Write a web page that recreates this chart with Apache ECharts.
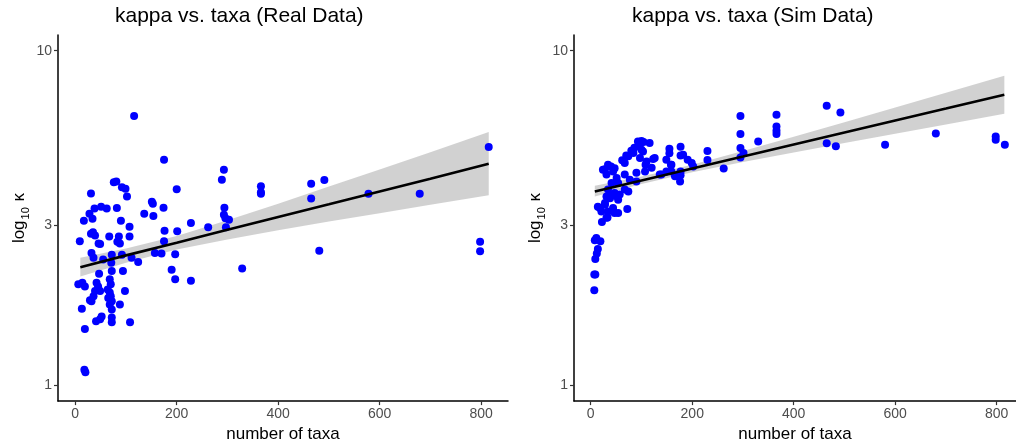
<!DOCTYPE html>
<html><head><meta charset="utf-8">
<script src="https://cdn.jsdelivr.net/npm/echarts@6/dist/echarts.min.js"></script>
<style>html,body{margin:0;padding:0;background:#fff}#c{width:1016px;height:448px}</style>
</head><body><div id="c"></div><script>
// ---- Real data (number of taxa, kappa) ----
const realTaxa = [116,175,293,289,76,81,92,99,102,200,31,151,153,174,294,38,51,62,82,28,34,17,90,136,154,293,296,303,107,176,201,228,262,297,35,39,31,9,46,49,67,86,83,88,107,175,197,157,170,32,36,55,72,92,111,124,71,47,72,94,190,197,228,329,6,14,19,42,45,49,68,70,68,65,72,36,32,39,98,88,68,13,72,49,41,52,72,72,108,19,18,20,815,465,491,465,366,366,366,578,679,798,798,481,29,64,70];
const realKappa = [6.38,4.72,4.40,4.11,4.04,4.06,3.90,3.86,3.66,3.85,3.74,3.53,3.48,3.39,3.39,3.37,3.41,3.37,3.38,3.25,3.14,3.10,3.10,3.25,3.20,3.23,3.15,3.12,2.97,2.89,2.88,3.05,2.96,2.96,2.86,2.80,2.83,2.69,2.65,2.64,2.78,2.78,2.68,2.65,2.78,2.69,2.46,2.48,2.47,2.48,2.40,2.37,2.45,2.45,2.40,2.33,2.32,2.15,2.19,2.19,2.21,2.07,2.05,2.23,2.00,2.02,1.97,2.02,1.97,1.91,2.07,2.00,1.89,1.82,1.78,1.84,1.78,1.91,1.91,1.74,1.74,1.69,1.68,1.57,1.55,1.60,1.59,1.54,1.54,1.47,1.11,1.09,5.15,4.00,4.10,3.61,3.93,3.77,3.73,3.73,3.73,2.68,2.51,2.52,1.79,1.93,1.84];
// fitted line and 95% band (kappa) read at these taxa values
const realFitTaxa = [10,100,200,300,400,500,600,700,815];
const realFit   = [2.25,2.44,2.66,2.91,3.18,3.47,3.79,4.14,4.59];
const realLower = [2.11,2.32,2.54,2.72,2.90,3.08,3.26,3.46,3.69];
const realUpper = [2.40,2.56,2.79,3.11,3.48,3.92,4.41,4.97,5.71];

// ---- Sim data ----
const simTaxa = [465,492,295,366,366,366,366,295,330,680,798,798,816,580,465,483,295,295,301,230,230,262,177,177,155,155,158,191,199,202,177,177,149,139,
7,7,9,9,12,14,8,19,22,33,14,21,28,38,44,54,72,51,57,
93,100,116,100,110,126,136,
24,34,44,31,67,74,84,97,103,120,107,90,67,77,90,51,54,41,67,74,34,31,41,47,54,28,18,34,47,31,11,149,159,182,159,166,176,
123,108,28,40,47,62,70,80,86,96,104];
const simKappa = [6.84,6.53,6.37,6.43,5.93,5.76,5.63,5.63,5.35,5.65,5.54,5.41,5.23,5.23,5.28,5.18,5.11,4.79,4.94,5.01,4.71,4.44,5.16,4.86,5.09,4.93,4.56,4.72,4.61,4.50,4.35,4.24,4.35,4.26,
1.92,2.14,2.14,2.38,2.47,2.55,2.71,2.69,3.07,3.17,3.41,3.30,3.46,3.62,3.38,3.27,3.36,3.67,3.71,
5.35,5.37,5.29,5.05,4.66,4.77,4.26,
4.40,4.56,4.35,4.26,4.61,4.83,4.94,4.77,4.99,4.46,4.35,4.31,4.26,4.11,4.06,4.16,4.02,4.02,3.84,3.79,3.84,3.66,3.71,3.75,3.58,3.50,3.38,3.30,3.27,3.16,2.75,4.72,4.56,4.88,4.35,4.21,4.06,
4.74,4.56,4.42,4.50,4.45,4.70,4.86,5.02,5.12,5.20,5.33];
const simFitTaxa = [8,100,200,300,400,500,600,700,815];
const simFit   = [3.79,4.09,4.44,4.82,5.24,5.69,6.18,6.71,7.38];
const simLower = [3.66,3.99,4.33,4.64,4.96,5.29,5.64,6.01,6.47];
const simUpper = [3.94,4.20,4.56,5.01,5.53,6.11,6.76,7.48,8.41];

const titles = ['kappa vs. taxa (Real Data)', 'kappa vs. taxa (Sim Data)'];
const xTicks = [0,200,400,600,800];
const yTickKappa = [1,3,10];

const L = Math.log10;
const yTicks = yTickKappa.map(L);

function bandSeries(idx, xs, lo, hi) {
  return {
    type: 'custom', xAxisIndex: idx, yAxisIndex: idx, silent: true,
    data: xs.map((x, i) => [x, L(lo[i]), L(hi[i])]),
    renderItem: function (params, api) {
      if (params.dataIndex !== 0) return null;
      const pts = [];
      for (let i = 0; i < xs.length; i++) pts.push(api.coord([xs[i], L(hi[i])]));
      for (let i = xs.length - 1; i >= 0; i--) pts.push(api.coord([xs[i], L(lo[i])]));
      return { type: 'polygon', shape: { points: pts }, style: { fill: 'rgba(153,153,153,0.45)' } };
    }
  };
}
function xAxisCfg(idx, min, max) {
  return {
    type: 'value', gridIndex: idx, min: min, max: max,
    name: 'number of taxa', nameLocation: 'middle', nameGap: 24,
    nameTextStyle: { fontSize: 17, color: '#000', fontFamily: 'Liberation Sans' },
    axisLine: { show: true, onZero: false, lineStyle: { color: '#000', width: 1.5 } },
    axisTick: { show: true, length: 4, customValues: xTicks, lineStyle: { color: '#333', width: 1.2 } },
    axisLabel: { customValues: xTicks, fontSize: 14, color: '#4d4d4d', margin: 6, fontFamily: 'Liberation Sans' },
    splitLine: { show: false }
  };
}
function yAxisCfg(idx) {
  return {
    type: 'value', gridIndex: idx, min: -0.0487, max: 1.0469,
    name: '{a|log}{s|10}{a| κ}', nameLocation: 'middle', nameGap: 30, nameRotate: 90,
    nameTextStyle: { rich: {
      a: { fontSize: 17, color: '#000', fontFamily: 'Liberation Sans', lineHeight: 20, verticalAlign: 'bottom' },
      s: { fontSize: 11, color: '#000', fontFamily: 'Liberation Sans', lineHeight: 20, verticalAlign: 'bottom', padding: [0, 1, -3, 1] }
    } },
    axisLine: { show: true, onZero: false, lineStyle: { color: '#000', width: 1.5 } },
    axisTick: { show: true, length: 4, customValues: yTicks, lineStyle: { color: '#333', width: 1.2 } },
    axisLabel: { customValues: yTicks, fontSize: 14, color: '#4d4d4d', margin: 6, fontFamily: 'Liberation Sans',
      formatter: v => String(Math.round(Math.pow(10, v))) },
    splitLine: { show: false }
  };
}
function pointSeries(idx, xs, ks) {
  return { type: 'scatter', xAxisIndex: idx, yAxisIndex: idx, symbolSize: 8,
    itemStyle: { color: '#0000FF', opacity: 1 }, data: xs.map((x, i) => [x, L(ks[i])]) };
}
function fitSeries(idx, xs, ks) {
  return { type: 'line', xAxisIndex: idx, yAxisIndex: idx, symbol: 'none', silent: true,
    lineStyle: { color: '#000', width: 2.6 }, data: xs.map((x, i) => [x, L(ks[i])]) };
}

const chart = echarts.init(document.getElementById('c'), null, { renderer: 'canvas' });
chart.setOption({
  animation: false,
  backgroundColor: '#fff',
  title: [
    { text: titles[0], left: 110, top: 1, textStyle: { fontSize: 21, fontWeight: 'normal', color: '#000', fontFamily: 'Liberation Sans' } },
    { text: titles[1], left: 627, top: 1, textStyle: { fontSize: 21, fontWeight: 'normal', color: '#000', fontFamily: 'Liberation Sans' } }
  ],
  grid: [
    { left: 58, top: 35, width: 450, height: 367 },
    { left: 574, top: 35, width: 442, height: 367 }
  ],
  xAxis: [xAxisCfg(0, -34, 853), xAxisCfg(1, -33, 838)],
  yAxis: [yAxisCfg(0), yAxisCfg(1)],
  series: [
    pointSeries(0, realTaxa, realKappa),
    bandSeries(0, realFitTaxa, realLower, realUpper),
    fitSeries(0, realFitTaxa, realFit),
    pointSeries(1, simTaxa, simKappa),
    bandSeries(1, simFitTaxa, simLower, simUpper),
    fitSeries(1, simFitTaxa, simFit)
  ]
});
</script></body></html>
